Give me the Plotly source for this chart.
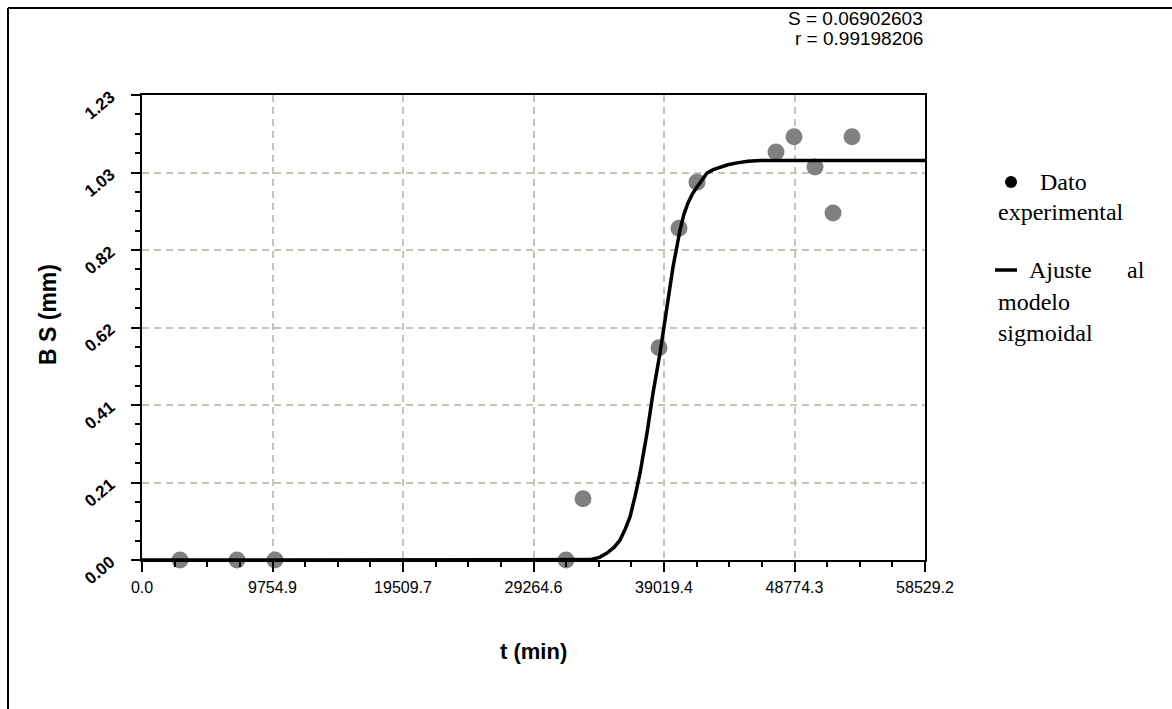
import plotly.graph_objects as go

# Experimental measurements: time (min) vs BS (mm)
t_exp = [2841, 7101, 9942, 31700, 32965, 38646, 40141, 41486,
         47391, 48737, 50307, 51652, 53073]
bs_exp = [0.0, 0.0, 0.0, 0.0, 0.162, 0.562, 0.879, 1.001,
          1.081, 1.121, 1.041, 0.919, 1.121]

# Fitted sigmoidal model, sampled along the time axis
t_fit = [0, 33488, 34200, 34759, 35300, 35731, 36100, 36478, 36850, 37226,
         37749, 38197, 38721, 39244, 39692, 40216, 40500, 40814, 41150,
         41486, 41850, 42234, 42700, 43206, 43800, 44476, 45300, 46196,
         58529.2]
bs_fit = [0.0, 0.001, 0.007, 0.0185, 0.034, 0.053, 0.080, 0.114, 0.168,
          0.230, 0.336, 0.442, 0.548, 0.670, 0.776, 0.874, 0.915, 0.946,
          0.970, 0.988, 1.008, 1.025, 1.034, 1.041, 1.047, 1.052, 1.056,
          1.058, 1.058]

# Axis ticks
x_tickvals = [0.0, 9754.87, 19509.73, 29264.6, 39019.47, 48774.33, 58529.2]
x_ticktext = ["0.0", "9754.9", "19509.7", "29264.6", "39019.4", "48774.3", "58529.2"]
y_tickvals = [0.0, 0.2053, 0.4106, 0.6159, 0.8212, 1.0265, 1.2318]
y_ticktext = ["0.00", "0.21", "0.41", "0.62", "0.82", "1.03", "1.23"]

stats_lines = ["S = 0.06902603", "r = 0.99198206"]

# Plot area in pixels (left, right, top, bottom) for paper-coordinate helpers
PL, PR, PT, PB = 142, 925, 95, 560
W, H = 1172, 709


def px(x):
    return (x - PL) / (PR - PL)


def py(y):
    return (PB - y) / (PB - PT)


fig = go.Figure()

fig.add_trace(go.Scatter(
    x=t_exp, y=bs_exp, mode="markers",
    marker=dict(color="#808080", size=17, line=dict(width=0)),
    cliponaxis=False, showlegend=False, name="Dato experimental"))

fig.add_trace(go.Scatter(
    x=t_fit, y=bs_fit, mode="lines",
    line=dict(color="black", width=3.5),
    cliponaxis=False, showlegend=False, name="Ajuste al modelo sigmoidal"))

grid_color = "#c6c4b6"

fig.update_xaxes(
    range=[0, 58529.2], tickvals=x_tickvals, ticktext=x_ticktext,
    ticks="outside", ticklen=10, tickwidth=2, tickcolor="black",
    showline=True, linecolor="black", linewidth=2, mirror=True,
    showgrid=True, gridcolor=grid_color, griddash="7px,5px", gridwidth=1.5,
    zeroline=False, tickangle=0, ticklabelstandoff=2,
    tickfont=dict(family="Liberation Sans", size=16, color="black"),
    minor=dict(ticks="outside", ticklen=5, tickwidth=2, tickcolor="black",
               tick0=0, dtick=58529.2 / 24, showgrid=False))

fig.update_yaxes(
    range=[0, 1.2318], tickvals=y_tickvals, ticktext=y_ticktext,
    ticks="outside", ticklen=9, tickwidth=2, tickcolor="black",
    showline=True, linecolor="black", linewidth=2, mirror=True,
    showgrid=True, gridcolor=grid_color, griddash="7px,5px", gridwidth=1.5,
    zeroline=False, tickangle=-40, ticklabelstandoff=17,
    tickfont=dict(family="Liberation Sans", size=17, color="black",
                  weight="bold"),
    minor=dict(ticks="outside", ticklen=5, tickwidth=2, tickcolor="black",
               tick0=0, dtick=1.2318 / 24, showgrid=False))

annotations = [
    # axis titles
    dict(text="<b>t (min)</b>", x=px(533), y=py(651), xref="paper", yref="paper",
         showarrow=False, xanchor="center", yanchor="middle",
         font=dict(family="Liberation Sans", size=22, color="black")),
    dict(text="<b>B S (mm)</b>", x=px(48), y=py(315), xref="paper", yref="paper",
         showarrow=False, xanchor="center", yanchor="middle", textangle=-90,
         font=dict(family="Liberation Sans", size=23, color="black")),
]

# fit statistics, right-aligned above the plot
for i, line in enumerate(stats_lines):
    annotations.append(dict(
        text=line, x=1.0, y=py(18 + 20 * i), xref="paper", yref="paper",
        showarrow=False, xanchor="right", yanchor="middle",
        font=dict(family="Liberation Sans", size=19, color="black")))

# legend text block on the right
serif = dict(family="Liberation Serif", size=24, color="black")
legend_text = [
    ("Dato", 1038, 182),
    ("experimental", 996, 212),
    ("Ajuste", 1027, 270),
    ("al", 1125, 270),
    ("modelo", 996, 302),
    ("sigmoidal", 996, 333),
]
for txt, x0, y0 in legend_text:
    annotations.append(dict(
        text=txt, x=px(x0), y=py(y0), xref="paper", yref="paper",
        showarrow=False, xanchor="left", yanchor="middle", font=serif))

shapes = [
    # legend symbols
    dict(type="circle", xref="paper", yref="paper",
         x0=px(1005), x1=px(1017), y0=py(176), y1=py(188),
         fillcolor="black", line=dict(width=0)),
    dict(type="line", xref="paper", yref="paper",
         x0=px(995), x1=px(1017), y0=py(270), y1=py(270),
         line=dict(color="black", width=3.5)),
    # outer frame (left and top edges)
    dict(type="line", xref="paper", yref="paper",
         x0=px(8), x1=px(8), y0=py(8), y1=py(W),
         line=dict(color="black", width=2)),
    dict(type="line", xref="paper", yref="paper",
         x0=px(8), x1=px(W + 5), y0=py(8), y1=py(8),
         line=dict(color="black", width=2)),
]

fig.update_layout(
    width=W, height=H,
    margin=dict(l=PL, r=W - PR, t=PT, b=H - PB, autoexpand=False),
    paper_bgcolor="white", plot_bgcolor="white",
    showlegend=False,
    annotations=annotations, shapes=shapes,
)

fig.write_html("out.html")
